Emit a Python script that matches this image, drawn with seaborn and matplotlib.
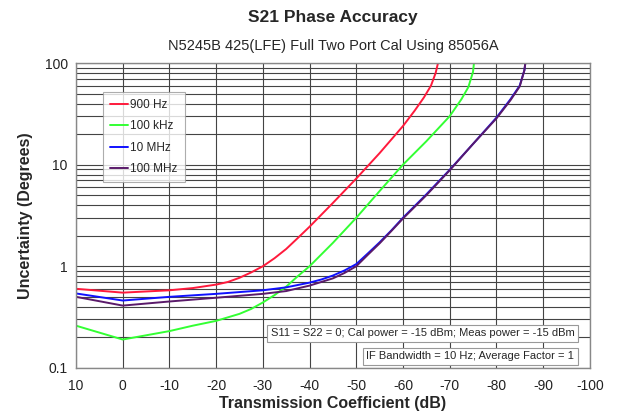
import pandas as pd
import matplotlib
matplotlib.use("Agg")
import matplotlib.pyplot as plt
import numpy as np
import seaborn as sns

# curves (x = transmission coefficient in dB)
x_900hz = [10, 0, -10, -15, -20, -22.5, -25, -27.5, -30, -32.5, -35, -37.5, -40, -45, -50,
           -55, -60, -62.5, -64.5, -66, -67, -67.5]
y_900hz = [0.60, 0.55, 0.58, 0.61, 0.66, 0.70, 0.77, 0.87, 1.0, 1.2, 1.48, 1.9, 2.45, 4.2, 7.3,
           13, 24, 34, 46, 60, 80, 100]

x_100khz = [10, 0, -10, -15, -20, -25, -27.5, -30, -32.5, -35, -37.5, -40, -45, -50, -55, -60,
            -65, -70, -72.5, -74, -75, -75.2]
y_100khz = [0.26, 0.19, 0.23, 0.26, 0.29, 0.34, 0.38, 0.44, 0.52, 0.63, 0.8, 1.0, 1.7, 3.0,
            5.5, 10, 17, 30, 44, 58, 82, 100]

x_10mhz = [10, 0, -10, -20, -30, -35, -40, -42.5, -45, -47.5, -50, -52.5, -55, -57.5, -60, -65,
           -70, -75, -80, -83, -85, -86, -86.2]
y_10mhz = [0.54, 0.46, 0.50, 0.535, 0.58, 0.62, 0.69, 0.74, 0.81, 0.91, 1.05, 1.34, 1.72, 2.25,
           3.0, 5.1, 8.9, 16, 29, 44, 60, 85, 100]

x_100mhz = [10, 0, -10, -20, -30, -35, -40, -42.5, -45, -47.5, -50, -52.5, -55, -57.5, -60, -65,
            -70, -75, -80, -83, -85, -86, -86.2]
y_100mhz = [0.50, 0.41, 0.45, 0.49, 0.535, 0.57, 0.645, 0.70, 0.76, 0.86, 1.0, 1.3, 1.68, 2.22,
            2.95, 5.0, 8.8, 16, 28.5, 43, 59, 85, 100]

labels = ["900 Hz", "100 kHz", "10 MHz", "100 MHz"]
colors = ["#ff1a3c", "#33ff33", "#1010ff", "#5a1a6a"]

df = pd.concat([
    pd.DataFrame({"x": x_900hz, "y": y_900hz, "series": labels[0]}),
    pd.DataFrame({"x": x_100khz, "y": y_100khz, "series": labels[1]}),
    pd.DataFrame({"x": x_10mhz, "y": y_10mhz, "series": labels[2]}),
    pd.DataFrame({"x": x_100mhz, "y": y_100mhz, "series": labels[3]}),
])

sns.set_theme(style="white")
plt.rcParams['font.family'] = ['Liberation Sans', 'DejaVu Sans']

fig = plt.figure(figsize=(6.19, 4.18), dpi=100)
ax = fig.add_axes([0.1228, 0.120, 0.830, 0.729])

sns.lineplot(data=df, x="x", y="y", hue="series", palette=colors,
             hue_order=labels, linewidth=1.4, ax=ax, sort=False)

ax.set_yscale("log")
ax.set_ylim(0.1, 100)
ax.set_xlim(10, -100)
ax.set_xticks(np.arange(10, -101, -10))
ax.set_xticklabels([str(v) for v in range(10, -101, -10)])
ax.set_yticks([0.1, 1, 10, 100])
ax.set_yticklabels(["0.1", "1", "10", "100"])
ax.tick_params(axis="both", which="both", length=0, labelsize=10, colors="#222222")
ax.tick_params(axis="x", pad=8)
ax.tick_params(axis="y", pad=6)

ax.grid(True, which="major", color="#444444", linewidth=0.8)
ax.grid(True, which="minor", axis="y", color="#444444", linewidth=0.8)
ax.set_axisbelow(True)
for s in ax.spines.values():
    s.set_color("#888888")
    s.set_linewidth(1.0)

ax.set_xlabel("Transmission Coefficient (dB)", fontsize=11.5, fontweight="bold", labelpad=2)
ax.set_ylabel("Uncertainty (Degrees)", fontsize=11.5, fontweight="bold", labelpad=8)

fig.text(0.538, 0.958, "S21 Phase Accuracy", ha="center", va="center",
         fontsize=12.5, fontweight="bold")
fig.text(0.538, 0.890, "N5245B 425(LFE) Full Two Port Cal Using 85056A", ha="center",
         va="center", fontsize=10.5)

leg = ax.legend(loc="upper left", bbox_to_anchor=(0.053, 0.906), fontsize=8.5,
                frameon=True, fancybox=False, handlelength=1.5, handletextpad=0.2,
                labelspacing=0.8, borderpad=0.6, borderaxespad=0)
leg.get_frame().set_edgecolor("#999999")
leg.get_frame().set_linewidth(0.8)
leg.set_title(None)

box = dict(boxstyle="square,pad=0.3", facecolor="white", edgecolor="#999999", linewidth=0.8)
ax.text(0.970, 0.113, "S11 = S22 = 0; Cal power = -15 dBm; Meas power = -15 dBm",
        transform=ax.transAxes, ha="right", va="center", fontsize=8, bbox=box)
ax.text(0.970, 0.038, "IF Bandwidth = 10 Hz; Average Factor = 1",
        transform=ax.transAxes, ha="right", va="center", fontsize=8, bbox=box)

fig.savefig("out.png", dpi=100)
